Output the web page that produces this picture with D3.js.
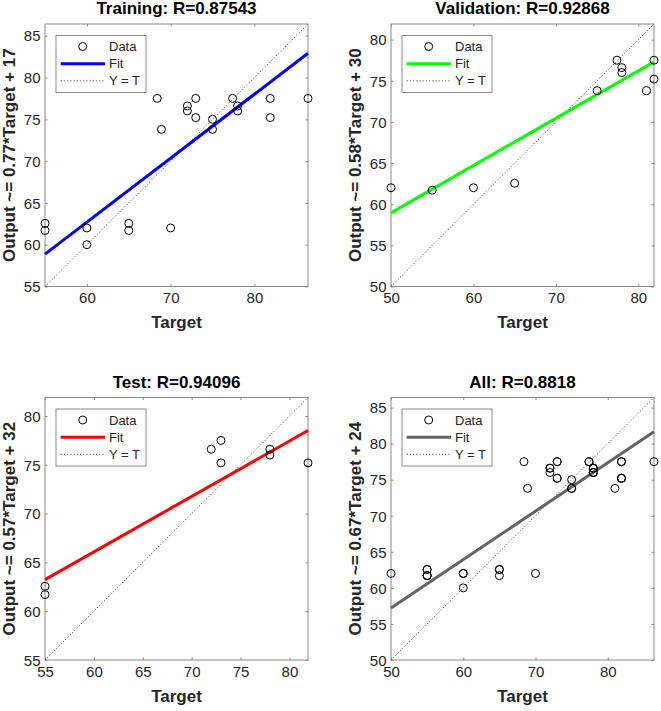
<!DOCTYPE html>
<html>
<head>
<meta charset="utf-8">
<script src="https://cdn.jsdelivr.net/npm/d3@7"></script>
<style>
  html, body { margin: 0; padding: 0; background: #fff; }
  svg { display: block; font-family: "Liberation Sans", Arial, Helvetica, sans-serif; }
</style>
</head>
<body>
<svg id="chart" width="661" height="711"></svg>
<script>
// ---------------- DATA ----------------
const trainTarget = [55, 55, 60, 60, 65, 65, 70, 68.4, 68.9, 72, 72, 73, 73, 75, 75, 77.4, 78, 78, 81.9, 81.9, 86.4];
const trainOutput = [62.55, 61.7, 62.0, 60.0, 62.55, 61.7, 62.0, 77.5, 73.8, 76.6, 76.0, 77.5, 75.2, 75.0, 73.8, 77.5, 76.6, 76.0, 77.5, 75.2, 77.5];

const valTarget = [50, 55, 60, 65, 75, 77.4, 78, 78, 81, 81.9, 81.9];
const valOutput = [62.0, 61.7, 62.0, 62.55, 73.8, 77.5, 76.6, 76.0, 73.8, 77.5, 75.2];

const testTarget = [55, 55, 72, 73, 73, 78, 78, 81.9];
const testOutput = [62.55, 61.7, 76.6, 77.5, 75.2, 76.6, 76.0, 75.2];

// fit coefficients [slope, intercept]
const trainFit = [0.765, 16.8];
const valFit = [0.575, 30.2];
const testFit = [0.568, 32.0];
const allFit = [0.672, 23.6];

const titles = ["Training: R=0.87543", "Validation: R=0.92868", "Test: R=0.94096", "All: R=0.8818"];
const yLabels = ["Output ~= 0.77*Target + 17", "Output ~= 0.58*Target + 30", "Output ~= 0.57*Target + 32", "Output ~= 0.67*Target + 24"];
const xLabel = "Target";
const legendLabels = ["Data", "Fit", "Y = T"];
const fitColors = ["#0000ff", "#00ff00", "#ff0000", "#646464"];

const trainXTicks = [60, 70, 80], trainYTicks = [55, 60, 65, 70, 75, 80, 85];
const valXTicks = [50, 60, 70, 80], valYTicks = [50, 55, 60, 65, 70, 75, 80];
const testXTicks = [55, 60, 65, 70, 75, 80], testYTicks = [55, 60, 65, 70, 75, 80];
const allXTicks = [50, 60, 70, 80], allYTicks = [50, 55, 60, 65, 70, 75, 80, 85];

const allTarget = trainTarget.concat(valTarget, testTarget);
const allOutput = trainOutput.concat(valOutput, testOutput);

// ---------------- LAYOUT ----------------
const panels = [
  { t: trainTarget, o: trainOutput, fit: trainFit, xt: trainXTicks, yt: trainYTicks, x0: 45, y0: 24 },
  { t: valTarget, o: valOutput, fit: valFit, xt: valXTicks, yt: valYTicks, x0: 391, y0: 24 },
  { t: testTarget, o: testOutput, fit: testFit, xt: testXTicks, yt: testYTicks, x0: 45, y0: 397.5 },
  { t: allTarget, o: allOutput, fit: allFit, xt: allXTicks, yt: allYTicks, x0: 391, y0: 397.5 }
];
const W = 263, H = 262.5;
const svg = d3.select("#chart");
const textColor = "#262626";
const boxColor = "#8a8a8a";

panels.forEach((p, i) => {
  const ext = d3.extent(p.t.concat(p.o));
  const x = d3.scaleLinear().domain(ext).range([0, W]);
  const y = d3.scaleLinear().domain(ext).range([H, 0]);
  const g = svg.append("g").attr("transform", `translate(${p.x0},${p.y0})`);

  // box
  g.append("rect").attr("x", 0).attr("y", 0).attr("width", W).attr("height", H)
    .attr("fill", "#fff").attr("stroke", boxColor).attr("stroke-width", 1);

  // axes with inward ticks
  const tl = 2.5;
  const xb = g.append("g").attr("transform", `translate(0,${H})`)
    .call(d3.axisBottom(x).tickValues(p.xt).tickSizeInner(-tl).tickSizeOuter(0).tickPadding(6));
  const xtop = g.append("g")
    .call(d3.axisTop(x).tickValues(p.xt).tickSizeInner(-tl).tickSizeOuter(0).tickFormat(""));
  const yl = g.append("g")
    .call(d3.axisLeft(y).tickValues(p.yt).tickSizeInner(-tl).tickSizeOuter(0).tickPadding(6));
  const yr = g.append("g").attr("transform", `translate(${W},0)`)
    .call(d3.axisRight(y).tickValues(p.yt).tickSizeInner(-tl).tickSizeOuter(0).tickFormat(""));
  [xb, xtop, yl, yr].forEach(a => {
    a.select(".domain").remove();
    a.selectAll(".tick line").attr("stroke", boxColor);
    a.selectAll(".tick text").attr("fill", textColor).style("font-size", "15px")
      .style("font-family", '"Liberation Sans", Arial, sans-serif');
  });
  xb.selectAll(".tick text").attr("dy", "0").attr("y", 16.5);
  yl.selectAll(".tick text").attr("x", -4.5).attr("dy", "0.35em");

  // Y = T dotted
  g.append("line")
    .attr("x1", x(ext[0])).attr("y1", y(ext[0]))
    .attr("x2", x(ext[1])).attr("y2", y(ext[1]))
    .attr("stroke", "#555").attr("stroke-width", 1).attr("stroke-dasharray", "1.2,2");

  // Fit line
  const f = v => p.fit[0] * v + p.fit[1];
  g.append("line")
    .attr("x1", x(ext[0])).attr("y1", y(f(ext[0])))
    .attr("x2", x(ext[1])).attr("y2", y(f(ext[1])))
    .attr("stroke", fitColors[i]).attr("stroke-width", 3);

  // Data circles
  g.selectAll("circle.pt").data(p.t.map((v, k) => [v, p.o[k]])).enter()
    .append("circle").attr("class", "pt")
    .attr("cx", d => x(d[0])).attr("cy", d => y(d[1])).attr("r", 4)
    .attr("fill", "none").attr("stroke", "#000").attr("stroke-width", 1);

  // Legend
  const lg = g.append("g").attr("transform", "translate(11,11.5)");
  lg.append("rect").attr("width", 90).attr("height", 57)
    .attr("fill", "#fff").attr("stroke", boxColor).attr("stroke-width", 1);
  lg.append("circle").attr("cx", 26.7).attr("cy", 11).attr("r", 4)
    .attr("fill", "none").attr("stroke", "#000").attr("stroke-width", 1);
  lg.append("line").attr("x1", 4.7).attr("x2", 49).attr("y1", 28.3).attr("y2", 28.3)
    .attr("stroke", fitColors[i]).attr("stroke-width", 3);
  lg.append("line").attr("x1", 4.7).attr("x2", 49).attr("y1", 45.3).attr("y2", 45.3)
    .attr("stroke", "#555").attr("stroke-width", 1).attr("stroke-dasharray", "1.2,2");
  [11, 28.3, 45.3].forEach((yy, k) => {
    lg.append("text").attr("x", 53).attr("y", yy).attr("dy", "0.36em")
      .attr("fill", textColor).style("font-size", "13px").text(legendLabels[k]);
  });

  // Title
  g.append("text").attr("x", W / 2).attr("y", -10).attr("text-anchor", "middle")
    .attr("fill", "#000").style("font-size", "17px").style("font-weight", "bold").text(titles[i]);
  // X label
  g.append("text").attr("x", W / 2).attr("y", H + 41.5).attr("text-anchor", "middle")
    .attr("fill", textColor).style("font-size", "17px").style("font-weight", "bold").text(xLabel);
  // Y label
  g.append("text").attr("transform", `translate(-30,${H / 2}) rotate(-90)`)
    .attr("text-anchor", "middle")
    .attr("fill", textColor).style("font-size", "17px").style("font-weight", "bold").text(yLabels[i]);
});
</script>
</body>
</html>
